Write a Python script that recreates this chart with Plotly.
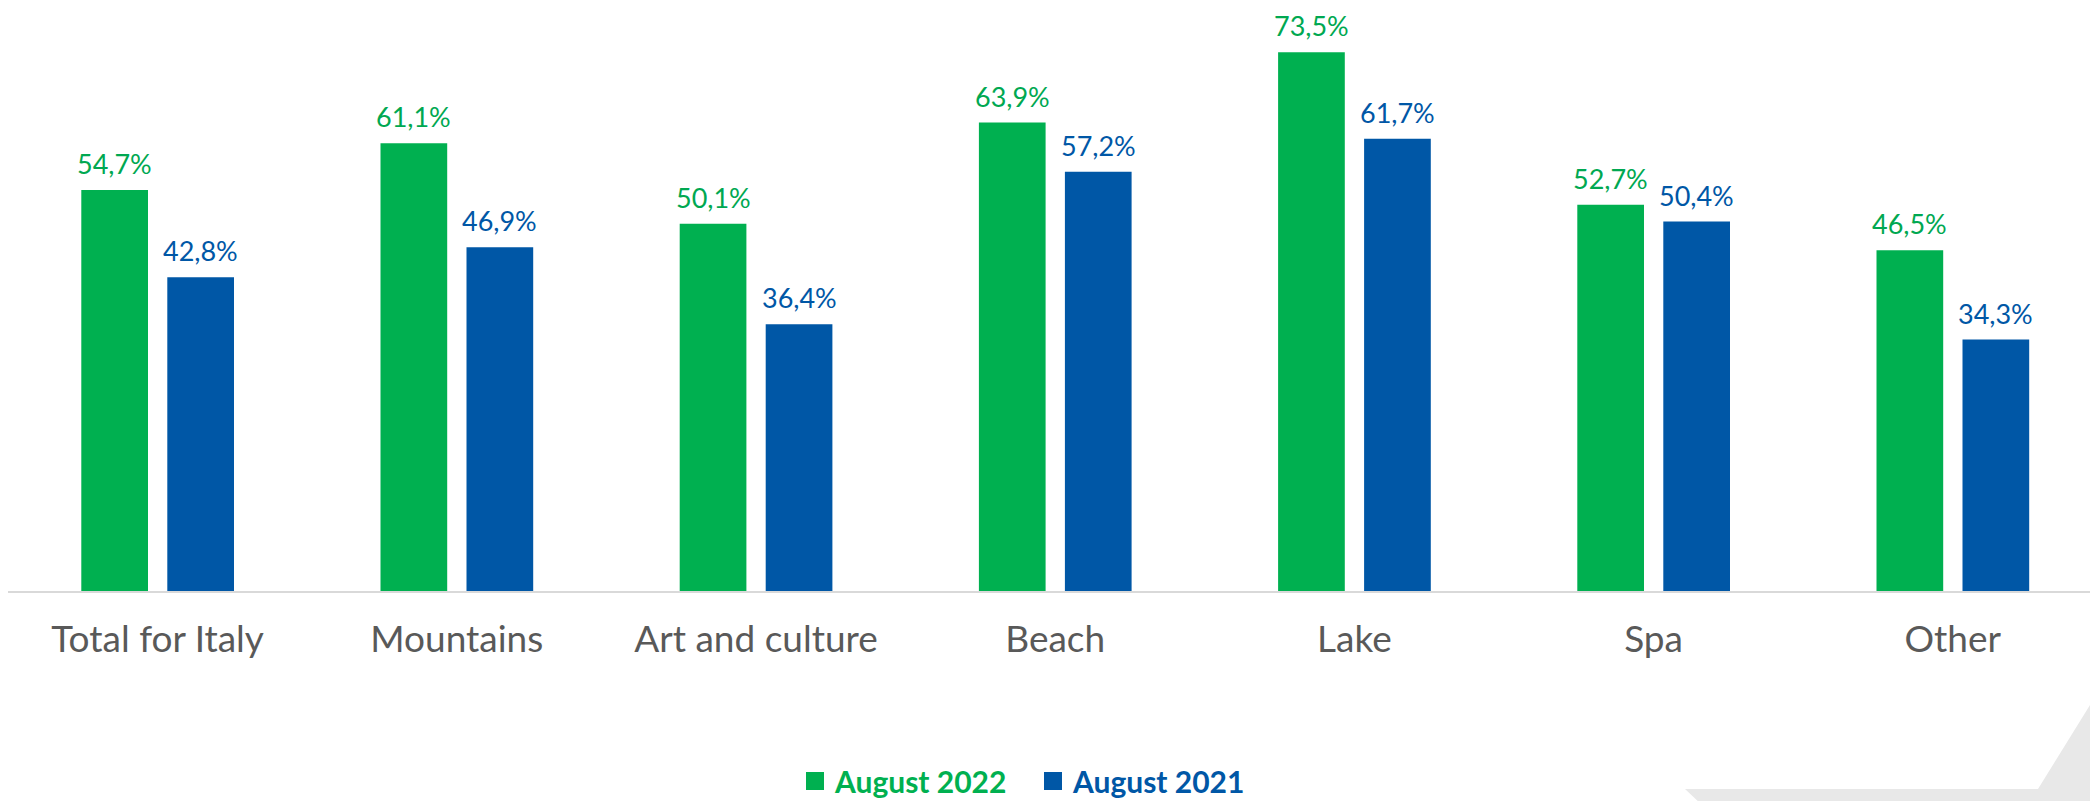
import plotly.graph_objects as go

# Occupancy rate by destination type, two Augusts compared
categories = ["Total for Italy", "Mountains", "Art and culture", "Beach", "Lake", "Spa", "Other"]
aug_2022 = [54.7, 61.1, 50.1, 63.9, 73.5, 52.7, 46.5]
aug_2021 = [42.8, 46.9, 36.4, 57.2, 61.7, 50.4, 34.3]
series_names = ["August 2022", "August 2021"]

GREEN = "#00B050"
BLUE = "#0057A6"
GREEN_TXT = "#00A851"
BLUE_TXT = "#0057A6"

W, H = 2090, 801
ML, MB = 8, 210
PLOT_W = W - ML
PLOT_H = H - MB
CAT_PX = 299.2          # pixel width of one category slot
PX_PER_PCT = 7.33       # vertical scale

BAR_W = 66.7 / CAT_PX
OFF_GREEN = -76.3 / CAT_PX
OFF_BLUE = 9.7 / CAT_PX


def fmt(v):
    return f"{v:.1f}".replace(".", ",") + "%"


fig = go.Figure()

fig.add_trace(go.Bar(
    x=categories, y=aug_2022, name=series_names[0],
    marker=dict(color=GREEN, line=dict(width=0)),
    width=BAR_W, offset=OFF_GREEN, showlegend=False, hoverinfo="skip",
))
fig.add_trace(go.Bar(
    x=categories, y=aug_2021, name=series_names[1],
    marker=dict(color=BLUE, line=dict(width=0)),
    width=BAR_W, offset=OFF_BLUE, showlegend=False, hoverinfo="skip",
))

# Legend entries with larger square swatches and coloured bold text
for name, col in zip(series_names, [GREEN, BLUE]):
    fig.add_trace(go.Scatter(
        x=[None], y=[None], mode="markers",
        name=f'<span style="color:{col}"><b>{name}</b></span>',
        marker=dict(symbol="square", size=16, color=col, line=dict(color=col, width=2)),
    ))

# Value labels above each bar
shift_green = (OFF_GREEN + BAR_W / 2) * CAT_PX
shift_blue = (OFF_BLUE + BAR_W / 2) * CAT_PX
annotations = []
for cat, g, b in zip(categories, aug_2022, aug_2021):
    for val, sh, col in ((g, shift_green, GREEN_TXT), (b, shift_blue, BLUE_TXT)):
        annotations.append(dict(
            x=cat, y=val, xref="x", yref="y", text=fmt(val), showarrow=False,
            xanchor="center", yanchor="bottom", xshift=sh, yshift=8,
            font=dict(family="Lato", size=27, color=col),
        ))

# light grey corner decoration
def px(X):
    return (X - ML) / PLOT_W

def py(Y):
    return (PLOT_H - Y) / PLOT_H

corner = (f"M {px(1685)} {py(789)} L {px(2038)} {py(789)} L {px(2095)} {py(697)} "
          f"L {px(2095)} {py(805)} L {px(1702)} {py(805)} Z")

fig.update_layout(
    width=W, height=H,
    margin=dict(l=ML, r=0, t=0, b=MB, pad=0, autoexpand=False),
    paper_bgcolor="white", plot_bgcolor="white",
    barmode="overlay",
    annotations=annotations,
    shapes=[dict(type="path", path=corner, xref="paper", yref="paper",
                 fillcolor="#E8E8E8", line=dict(width=0), layer="below")],
    xaxis=dict(
        type="category", range=[-0.5, -0.5 + PLOT_W / CAT_PX],
        showline=True, linecolor="#D9D9D9", linewidth=2,
        showgrid=False, zeroline=False, ticks="",
        tickfont=dict(family="Lato", size=37, color="#595959"),
        ticklabelstandoff=15,
    ),
    yaxis=dict(
        range=[0, PLOT_H / PX_PER_PCT], visible=False,
        showgrid=False, zeroline=False,
    ),
    legend=dict(
        orientation="h", x=px(795), xanchor="left",
        y=py(781), yanchor="middle",
        font=dict(family="Lato", size=30),
        bgcolor="rgba(0,0,0,0)", entrywidth=193, itemclick=False,
    ),
    font=dict(family="Lato"),
)

fig.write_html("out.html")
